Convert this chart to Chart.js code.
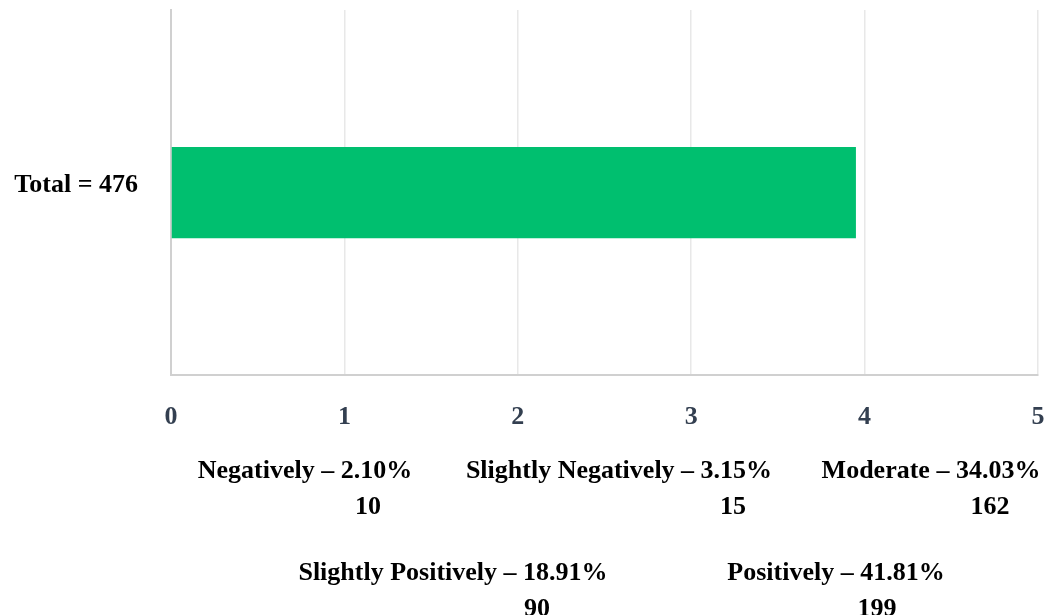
<!DOCTYPE html>
<html>
<head>
<meta charset="utf-8">
<script src="https://cdn.jsdelivr.net/npm/chart.js@4/dist/chart.umd.min.js"></script>
<style>
  html, body { margin: 0; padding: 0; background: #fff; }
  #wrap { width: 1049px; height: 615px; }
</style>
</head>
<body>
<div id="wrap"><canvas id="scoreChart"></canvas></div>
<script>
  // Chart data
  const categories = ['Total = 476'];
  const meanScores = [3.95];
  const xTicks = [0, 1, 2, 3, 4, 5];
  const responseLabels = ['Negatively', 'Slightly Negatively', 'Moderate', 'Slightly Positively', 'Positively'];
  const responsePercents = ['2.10%', '3.15%', '34.03%', '18.91%', '41.81%'];
  const responseCounts = [10, 15, 162, 90, 199];

  const serif = '"Liberation Serif", "Times New Roman", serif';

  // legend drawn by hand: two rows, count under each label
  const legendSpots = [
    { x: 305, y: 471, cx: 368 },
    { x: 619, y: 471, cx: 733 },
    { x: 931, y: 471, cx: 990 },
    { x: 453, y: 573, cx: 537 },
    { x: 836, y: 573, cx: 877 }
  ];

  const responseLegend = {
    id: 'responseLegend',
    afterDraw(chart) {
      const ctx = chart.ctx;
      ctx.save();
      ctx.fillStyle = '#000';
      ctx.font = 'bold 26px ' + serif;
      ctx.textAlign = 'center';
      ctx.textBaseline = 'middle';
      responseLabels.forEach((label, i) => {
        const spot = legendSpots[i];
        ctx.fillText(label + ' \u2013 ' + responsePercents[i], spot.x, spot.y);
        ctx.fillText(String(responseCounts[i]), spot.cx, spot.y + 36);
      });
      ctx.restore();
    }
  };

  document.addEventListener('DOMContentLoaded', function() {
    const ctx = document.getElementById('scoreChart').getContext('2d');
    new Chart(ctx, {
      type: 'bar',
      data: {
        labels: categories,
        datasets: [{
          label: 'Mean score',
          data: meanScores,
          backgroundColor: '#00BF6F',
          borderWidth: 0,
          barPercentage: 1,
          categoryPercentage: 0.25
        }]
      },
      options: {
        indexAxis: 'y',
        responsive: true,
        maintainAspectRatio: false,
        animation: false,
        layout: { padding: { top: 10, right: 11, left: 10, bottom: 0 } },
        plugins: {
          legend: { display: false },
          tooltip: { enabled: false }
        },
        scales: {
          x: {
            min: xTicks[0],
            max: xTicks[xTicks.length - 1],
            afterBuildTicks: (scale) => { scale.ticks = xTicks.map(v => ({ value: v })); },
            afterFit: (scale) => { scale.height = 240; },
            grid: { color: '#e8e8e8', lineWidth: 1.5, drawTicks: true, tickLength: 27, tickColor: 'transparent' },
            border: { color: '#d0d0d0', width: 2 },
            ticks: {
              padding: 0,
              color: '#333f50',
              font: { family: serif, size: 26, weight: 'bold' }
            }
          },
          y: {
            afterFit: (scale) => { scale.width = 161; },
            grid: { color: 'transparent', drawTicks: true, tickLength: 33, tickColor: 'transparent' },
            border: { color: '#d0d0d0', width: 2 },
            ticks: {
              padding: 0,
              labelOffset: -7,
              color: '#000',
              font: { family: serif, size: 26, weight: 'bold', lineHeight: 0.75 }
            }
          }
        }
      },
      plugins: [responseLegend]
    });
  });
</script>
</body>
</html>
